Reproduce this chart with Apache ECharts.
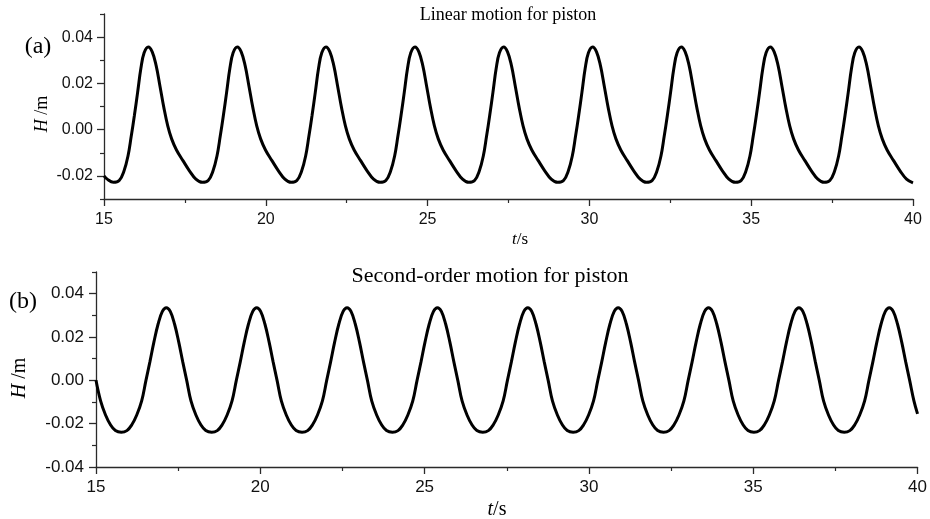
<!DOCTYPE html>
<html>
<head>
<meta charset="utf-8">
<title>Piston motion</title>
<script src="https://cdn.jsdelivr.net/npm/echarts@6/dist/echarts.min.js"></script>
<style>
  html, body { margin: 0; padding: 0; background: #fff; }
  #chart { width: 930px; height: 519px; }
</style>
</head>
<body>
<div id="chart"></div>
<script>
// Free-surface elevation H (m) against time t (s) for two piston motions.

// (a) linear motion for piston
const linearTime = [
  15.00, 15.10,
  15.29, 15.47, 15.62, 15.74, 15.84, 15.94, 16.04, 16.14, 16.24, 16.37, 16.49, 16.61, 16.73, 16.85, 16.97, 17.09, 17.24, 17.44, 17.64, 17.84,
  18.04, 18.22, 18.37, 18.49, 18.59, 18.69, 18.79, 18.89, 18.99, 19.12, 19.24, 19.36, 19.48, 19.60, 19.72, 19.84, 19.99, 20.19, 20.39, 20.59,
  20.78, 20.96, 21.11, 21.23, 21.33, 21.43, 21.53, 21.63, 21.73, 21.86, 21.98, 22.10, 22.22, 22.34, 22.46, 22.58, 22.73, 22.93, 23.13, 23.33,
  23.53, 23.71, 23.86, 23.98, 24.08, 24.18, 24.28, 24.38, 24.48, 24.61, 24.73, 24.85, 24.97, 25.09, 25.21, 25.33, 25.48, 25.68, 25.88, 26.08,
  26.27, 26.45, 26.60, 26.72, 26.82, 26.92, 27.02, 27.12, 27.22, 27.35, 27.47, 27.59, 27.71, 27.83, 27.95, 28.07, 28.22, 28.42, 28.62, 28.82,
  29.02, 29.20, 29.35, 29.47, 29.57, 29.67, 29.77, 29.87, 29.97, 30.10, 30.22, 30.34, 30.46, 30.58, 30.70, 30.82, 30.97, 31.17, 31.37, 31.57,
  31.76, 31.94, 32.09, 32.21, 32.31, 32.41, 32.51, 32.61, 32.71, 32.84, 32.96, 33.08, 33.20, 33.32, 33.44, 33.56, 33.71, 33.91, 34.11, 34.31,
  34.51, 34.69, 34.84, 34.96, 35.06, 35.16, 35.26, 35.36, 35.46, 35.59, 35.71, 35.83, 35.95, 36.07, 36.19, 36.31, 36.46, 36.66, 36.86, 37.06,
  37.25, 37.43, 37.58, 37.70, 37.80, 37.90, 38.00, 38.10, 38.20, 38.33, 38.45, 38.57, 38.69, 38.81, 38.93, 39.05, 39.20, 39.40, 39.60, 39.80,
  40.00
];
const linearHeight = [
  -0.0200, -0.0214,
  -0.0228, -0.0220, -0.0178, -0.0115, -0.0030, 0.0062, 0.0162, 0.0265, 0.0332, 0.0357, 0.0336, 0.0278, 0.0188, 0.0095, 0.0016, -0.0040, -0.0088, -0.0134, -0.0178, -0.0214,
  -0.0228, -0.0220, -0.0178, -0.0115, -0.0030, 0.0062, 0.0162, 0.0265, 0.0332, 0.0357, 0.0336, 0.0278, 0.0188, 0.0095, 0.0016, -0.0040, -0.0088, -0.0134, -0.0178, -0.0214,
  -0.0228, -0.0220, -0.0178, -0.0115, -0.0030, 0.0062, 0.0162, 0.0265, 0.0332, 0.0357, 0.0336, 0.0278, 0.0188, 0.0095, 0.0016, -0.0040, -0.0088, -0.0134, -0.0178, -0.0214,
  -0.0228, -0.0220, -0.0178, -0.0115, -0.0030, 0.0062, 0.0162, 0.0265, 0.0332, 0.0357, 0.0336, 0.0278, 0.0188, 0.0095, 0.0016, -0.0040, -0.0088, -0.0134, -0.0178, -0.0214,
  -0.0228, -0.0220, -0.0178, -0.0115, -0.0030, 0.0062, 0.0162, 0.0265, 0.0332, 0.0357, 0.0336, 0.0278, 0.0188, 0.0095, 0.0016, -0.0040, -0.0088, -0.0134, -0.0178, -0.0214,
  -0.0228, -0.0220, -0.0178, -0.0115, -0.0030, 0.0062, 0.0162, 0.0265, 0.0332, 0.0357, 0.0336, 0.0278, 0.0188, 0.0095, 0.0016, -0.0040, -0.0088, -0.0134, -0.0178, -0.0214,
  -0.0228, -0.0220, -0.0178, -0.0115, -0.0030, 0.0062, 0.0162, 0.0265, 0.0332, 0.0357, 0.0336, 0.0278, 0.0188, 0.0095, 0.0016, -0.0040, -0.0088, -0.0134, -0.0178, -0.0214,
  -0.0228, -0.0220, -0.0178, -0.0115, -0.0030, 0.0062, 0.0162, 0.0265, 0.0332, 0.0357, 0.0336, 0.0278, 0.0188, 0.0095, 0.0016, -0.0040, -0.0088, -0.0134, -0.0178, -0.0214,
  -0.0228, -0.0220, -0.0178, -0.0115, -0.0030, 0.0062, 0.0162, 0.0265, 0.0332, 0.0357, 0.0336, 0.0278, 0.0188, 0.0095, 0.0016, -0.0040, -0.0088, -0.0134, -0.0178, -0.0214,
  -0.0230
];

// (b) second-order motion for piston
const secondTime = [
  15.00, 15.14, 15.29, 15.44, 15.59,
  15.77, 15.94, 16.09, 16.24, 16.39, 16.52, 16.64, 16.76, 16.89, 17.02, 17.14, 17.26, 17.39, 17.52, 17.64, 17.76, 17.89, 18.04, 18.19, 18.34,
  18.52, 18.69, 18.84, 18.99, 19.14, 19.27, 19.39, 19.51, 19.64, 19.77, 19.89, 20.01, 20.14, 20.27, 20.39, 20.51, 20.64, 20.79, 20.94, 21.09,
  21.27, 21.44, 21.59, 21.74, 21.89, 22.02, 22.14, 22.26, 22.39, 22.52, 22.64, 22.76, 22.89, 23.02, 23.14, 23.26, 23.39, 23.54, 23.69, 23.84,
  24.02, 24.19, 24.34, 24.49, 24.64, 24.77, 24.89, 25.01, 25.14, 25.27, 25.39, 25.51, 25.64, 25.77, 25.89, 26.01, 26.14, 26.29, 26.44, 26.59,
  26.77, 26.94, 27.09, 27.24, 27.39, 27.52, 27.64, 27.76, 27.89, 28.02, 28.14, 28.26, 28.39, 28.52, 28.64, 28.76, 28.89, 29.04, 29.19, 29.34,
  29.52, 29.69, 29.84, 29.99, 30.14, 30.27, 30.39, 30.51, 30.64, 30.77, 30.89, 31.01, 31.14, 31.27, 31.39, 31.51, 31.64, 31.79, 31.94, 32.09,
  32.27, 32.44, 32.59, 32.74, 32.89, 33.02, 33.14, 33.26, 33.39, 33.52, 33.64, 33.76, 33.89, 34.02, 34.14, 34.26, 34.39, 34.54, 34.69, 34.84,
  35.02, 35.19, 35.34, 35.49, 35.64, 35.77, 35.89, 36.01, 36.14, 36.27, 36.39, 36.51, 36.64, 36.77, 36.89, 37.01, 37.14, 37.29, 37.44, 37.59,
  37.77, 37.94, 38.09, 38.24, 38.39, 38.52, 38.64, 38.76, 38.89, 39.02, 39.14, 39.26, 39.39, 39.52, 39.64, 39.76, 39.89,
  40.00
];
const secondHeight = [
  0.0000, -0.0095, -0.0160, -0.0205, -0.0232,
  -0.0240, -0.0232, -0.0205, -0.0160, -0.0095, 0.0000, 0.0085, 0.0175, 0.0260, 0.0318, 0.0335, 0.0318, 0.0260, 0.0175, 0.0085, 0.0000, -0.0095, -0.0160, -0.0205, -0.0232,
  -0.0240, -0.0232, -0.0205, -0.0160, -0.0095, 0.0000, 0.0085, 0.0175, 0.0260, 0.0318, 0.0335, 0.0318, 0.0260, 0.0175, 0.0085, 0.0000, -0.0095, -0.0160, -0.0205, -0.0232,
  -0.0240, -0.0232, -0.0205, -0.0160, -0.0095, 0.0000, 0.0085, 0.0175, 0.0260, 0.0318, 0.0335, 0.0318, 0.0260, 0.0175, 0.0085, 0.0000, -0.0095, -0.0160, -0.0205, -0.0232,
  -0.0240, -0.0232, -0.0205, -0.0160, -0.0095, 0.0000, 0.0085, 0.0175, 0.0260, 0.0318, 0.0335, 0.0318, 0.0260, 0.0175, 0.0085, 0.0000, -0.0095, -0.0160, -0.0205, -0.0232,
  -0.0240, -0.0232, -0.0205, -0.0160, -0.0095, 0.0000, 0.0085, 0.0175, 0.0260, 0.0318, 0.0335, 0.0318, 0.0260, 0.0175, 0.0085, 0.0000, -0.0095, -0.0160, -0.0205, -0.0232,
  -0.0240, -0.0232, -0.0205, -0.0160, -0.0095, 0.0000, 0.0085, 0.0175, 0.0260, 0.0318, 0.0335, 0.0318, 0.0260, 0.0175, 0.0085, 0.0000, -0.0095, -0.0160, -0.0205, -0.0232,
  -0.0240, -0.0232, -0.0205, -0.0160, -0.0095, 0.0000, 0.0085, 0.0175, 0.0260, 0.0318, 0.0335, 0.0318, 0.0260, 0.0175, 0.0085, 0.0000, -0.0095, -0.0160, -0.0205, -0.0232,
  -0.0240, -0.0232, -0.0205, -0.0160, -0.0095, 0.0000, 0.0085, 0.0175, 0.0260, 0.0318, 0.0335, 0.0318, 0.0260, 0.0175, 0.0085, 0.0000, -0.0095, -0.0160, -0.0205, -0.0232,
  -0.0240, -0.0232, -0.0205, -0.0160, -0.0095, 0.0000, 0.0085, 0.0175, 0.0260, 0.0318, 0.0335, 0.0318, 0.0260, 0.0175, 0.0085, 0.0000, -0.0095,
  -0.0155
];

// Axis ticks
const timeTicks = [15, 20, 25, 30, 35, 40];
const topMajorTicks = [-0.02, 0.00, 0.02, 0.04];
const topMinorTicks = [-0.03, -0.01, 0.01, 0.03, 0.05];
const bottomMajorTicks = [-0.04, -0.02, 0.00, 0.02, 0.04];
const bottomMinorTicks = [-0.03, -0.01, 0.01, 0.03, 0.05];

const SANS = '"Liberation Sans", Arial, sans-serif';
const SERIF = '"Liberation Serif", "Times New Roman", serif';
const AXIS_COLOR = '#2a2a2a';

const zip = (xs, ys) => xs.map((x, i) => [x, ys[i]]);

function timeAxis(gridIndex, fontSize, margin) {
  return {
    type: 'value', gridIndex, min: 15, max: 40, interval: 5,
    axisLine: { show: true, onZero: false, lineStyle: { color: AXIS_COLOR, width: 1.3 } },
    axisTick: { show: true, inside: false, length: 7, lineStyle: { color: AXIS_COLOR, width: 1.3 } },
    minorTick: { show: true, splitNumber: 2, length: 4, lineStyle: { color: AXIS_COLOR, width: 1.2 } },
    axisLabel: { show: true, margin, color: '#111', fontFamily: SANS, fontSize,
      customValues: timeTicks, formatter: v => String(v) },
    splitLine: { show: false }, minorSplitLine: { show: false }
  };
}

function majorHeightAxis(gridIndex, min, ticks, fontSize, margin) {
  return {
    type: 'value', gridIndex, min, max: 0.05, position: 'left',
    axisLine: { show: true, onZero: false, lineStyle: { color: AXIS_COLOR, width: 1.3 } },
    axisTick: { show: true, inside: false, length: 7, customValues: ticks,
      lineStyle: { color: AXIS_COLOR, width: 1.3 } },
    axisLabel: { show: true, margin, color: '#111', fontFamily: SANS, fontSize,
      customValues: ticks, formatter: v => v.toFixed(2) },
    splitLine: { show: false }
  };
}

function minorHeightAxis(gridIndex, min, ticks) {
  return {
    type: 'value', gridIndex, min, max: 0.05, position: 'left',
    axisLine: { show: false },
    axisTick: { show: true, inside: false, length: 4, customValues: ticks,
      lineStyle: { color: AXIS_COLOR, width: 1.2 } },
    axisLabel: { show: false },
    splitLine: { show: false }
  };
}

function text(x, y, str, size) {
  return {
    type: 'text', x, y,
    style: {
      text: str, fill: '#000', font: size + 'px ' + SERIF,
      textAlign: 'center', textVerticalAlign: 'middle'
    }
  };
}

// Text with an italic leading symbol, e.g. "t/s" or "H /m"
function symbolText(x, y, symbol, rest, size, rotation) {
  return {
    type: 'text', x, y, rotation: rotation || 0,
    style: {
      text: '{i|' + symbol + '}' + rest, fill: '#000', font: size + 'px ' + SERIF,
      textAlign: 'center', textVerticalAlign: 'middle',
      rich: { i: { fontStyle: 'italic', fontFamily: SERIF, fontSize: size } }
    }
  };
}

const chart = echarts.init(document.getElementById('chart'), null, { renderer: 'canvas' });

chart.setOption({
  animation: false,
  backgroundColor: '#fff',
  grid: [
    { left: 104, right: 17, top: 14, height: 185 },
    { left: 96, right: 10, top: 272, height: 195 }
  ],
  xAxis: [timeAxis(0, 16, 13), timeAxis(1, 17, 12)],
  yAxis: [
    majorHeightAxis(0, -0.03, topMajorTicks, 16, 11),
    minorHeightAxis(0, -0.03, topMinorTicks),
    majorHeightAxis(1, -0.04, bottomMajorTicks, 17, 12),
    minorHeightAxis(1, -0.04, bottomMinorTicks)
  ],
  series: [
    {
      name: 'Linear motion for piston', type: 'line', xAxisIndex: 0, yAxisIndex: 0,
      data: zip(linearTime, linearHeight), showSymbol: false, smooth: 0.4,
      lineStyle: { color: '#000', width: 3 }, clip: false
    },
    {
      name: 'Second-order motion for piston', type: 'line', xAxisIndex: 1, yAxisIndex: 2,
      data: zip(secondTime, secondHeight), showSymbol: false, smooth: 0.4,
      lineStyle: { color: '#000', width: 3 }, clip: false
    }
  ],
  graphic: [
    text(508, 15, 'Linear motion for piston', 18),
    text(490, 276, 'Second-order motion for piston', 22),
    text(38, 47, '(a)', 24),
    text(23, 302, '(b)', 24),
    symbolText(520, 240, 't', '/s', 17),
    symbolText(497, 510, 't', '/s', 20),
    symbolText(42, 114, 'H', ' /m', 18, Math.PI / 2),
    symbolText(20, 378, 'H', ' /m', 20, Math.PI / 2)
  ]
});
</script>
</body>
</html>
